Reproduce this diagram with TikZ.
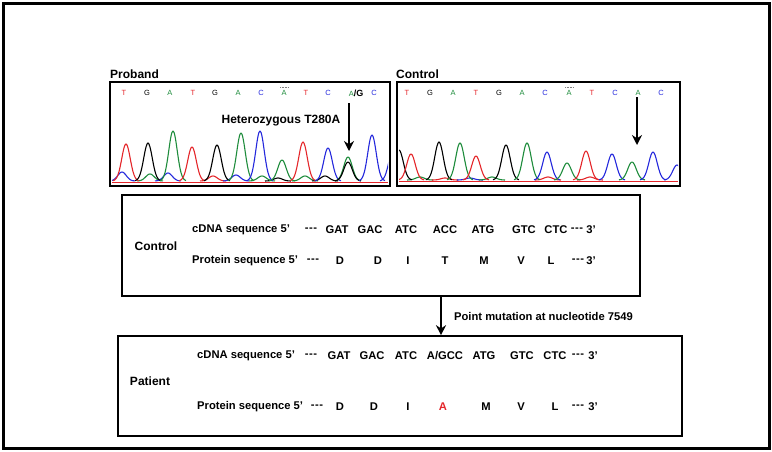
\documentclass[tikz,border=0pt]{standalone}
\usepackage{fontspec}
\setmainfont{Liberation Sans}
\usetikzlibrary{arrows.meta,positioning}

\definecolor{tRed}{RGB}{228,38,42}
\definecolor{tGreen}{RGB}{30,140,60}
\definecolor{tBlue}{RGB}{36,40,220}

\tikzset{
  frame/.style={draw, line width=1.6pt},
  lbl/.style={font=\bfseries\fontsize{12}{13}\selectfont, inner sep=0pt},
  seq/.style={font=\bfseries\fontsize{11.2}{13}\selectfont, inner sep=0pt},
  basecall/.style={font=\fontsize{7.5}{8}\selectfont, inner sep=0pt},
  trace/.style={line width=1.1pt, line join=round},
  pointer/.style={line width=2.3pt, -{Stealth[length=10pt,width=10pt]}},
}

\newcommand{\dashes}{-\kern0.6pt-\kern0.6pt-}
% one chromatogram peak: colour, centre, top, baseline
\newcommand{\peak}[4]{%
  \pgfmathsetmacro{\pa}{#2-13}\pgfmathsetmacro{\pb}{#2+13}%
  \draw[trace,#1] plot[domain=\pa:\pb,samples=27,smooth]
    (\x,{#4-(#4-#3)*exp(-((\x-#2)/6)^2)});}

\begin{document}
\begin{tikzpicture}[x=1pt, y=-1pt]
  \useasboundingbox (0,0) rectangle (772,451);
  \draw[line width=3pt] (3,3) rectangle (769,448);

  % chromatograms
  \node[lbl, anchor=south west] (probandlbl) at (110,79) {Proband};
  \node[lbl, anchor=south west] (controllbl) at (396,79) {Control};
  \draw[line width=2.2pt] (110,82) rectangle (390,186);
  \draw[line width=2.2pt] (397,82) rectangle (680,186);

  \foreach \bx/\b/\c [count=\i] in {124/T/tRed, 147/G/black, 170/A/tGreen,
      193/T/tRed, 215/G/black, 238/A/tGreen, 261/C/tBlue, 284/A/tGreen,
      306/T/tRed, 328/C/tBlue, 374/C/tBlue}
    \node[basecall, text=\c] (pb\i) at (\bx,93) {\b};
  \node[basecall] (pbAG) at (356,93) {\textcolor{tGreen}{A}\textbf{\fontsize{9}{9}\selectfont/G}};
  \foreach \bx/\b/\c [count=\i] in {407/T/tRed, 430/G/black, 453/A/tGreen,
      476/T/tRed, 499/G/black, 522/A/tGreen, 545/C/tBlue, 569/A/tGreen,
      592/T/tRed, 615/C/tBlue, 638/A/tGreen, 661/C/tBlue}
    \node[basecall, text=\c] (cb\i) at (\bx,93) {\b};
  \draw[densely dotted, gray, line width=0.5pt] (280,87) -- (289,87);
  \draw[densely dotted, gray, line width=0.5pt] (565,87) -- (574,87);

  \begin{scope}
    \clip (112,84) rectangle (388,184);
    \draw[tRed, line width=0.6pt] (112,182) -- (388,182);
    \foreach \pc/\pt/\pcol in {122/172/tBlue, 150/174/tGreen, 168/173/tBlue,
        213/176/tRed, 236/175/tBlue, 262/176/tGreen, 278/178/black,
        305/176/tGreen, 325/176/black}
      {\peak{\pcol}{\pc}{\pt}{181}}
    \foreach \pc/\pt/\pcol in {126/144/tRed, 148/143/black, 173/131/tGreen,
        192/147/tRed, 217/145/black, 241/133/tGreen, 260/131/tBlue,
        282/160/tGreen, 303/142/tRed, 328/148/tBlue, 348/157/tGreen,
        348/162/black, 372/135/tBlue, 393/150/tBlue}
      {\peak{\pcol}{\pc}{\pt}{181}}
  \end{scope}
  \begin{scope}
    \clip (399,84) rectangle (678,184);
    \draw[tRed, line width=0.6pt] (399,181) -- (678,181);
    \foreach \pc/\pt/\pcol in {420/177/tGreen, 445/178/tRed, 470/178/tBlue,
        492/177/tGreen, 590/177/tRed, 548/177/tRed}
      {\peak{\pcol}{\pc}{\pt}{180}}
    \foreach \pc/\pt/\pcol in {399/150/black, 411/154/tRed, 439/142/black,
        460/143/tGreen, 476/156/tRed, 506/145/black, 527/143/tGreen,
        547/152/tBlue, 567/163/tGreen, 586/151/tRed, 612/154/tBlue,
        632/162/tGreen, 653/152/tBlue, 677/165/tBlue}
      {\peak{\pcol}{\pc}{\pt}{180}}
  \end{scope}

  \node[lbl] (hetlbl) at (281,121) {Heterozygous T280A};
  \coordinate (pbtail) at (349,103); \coordinate (pbtip) at (349,151);
  \draw[pointer] (pbtail) -- (pbtip);
  \coordinate (cbtail) at (637,97); \coordinate (cbtip) at (637,145);
  \draw[pointer] (cbtail) -- (cbtip);

  % control sequence
  \node[frame, minimum width=518pt, minimum height=101pt, inner sep=0pt]
    (ctrlbox) at (381,245.5) {};
  \node[lbl] (ctrllbl) at (156,246) {Control};
  \node[seq, anchor=west] (ctrlcdna) at (192,230) {cDNA sequence 5’};
  \node[seq, anchor=west] (ctrlprot) at (192,261) {Protein sequence 5’};
  \foreach \bx/\t [count=\i] in {311/\dashes, 337/GAT, 370/GAC, 406/ATC, 445/ACC,
      483/ATG, 524/GTC, 556/CTC, 577/\dashes, 591/3’}
    {\node[seq] (cc\i) at (\bx,230) {\t};}
  \foreach \bx/\t [count=\i] in {313/\dashes, 340/D, 378/D, 408/I, 445/T,
      484/M, 521/V, 551/L, 578/\dashes, 591/3’}
    {\node[seq] (cp\i) at (\bx,261) {\t};}

  % patient sequence
  \node[frame, minimum width=564pt, minimum height=100pt, inner sep=0pt]
    (patbox) at (400,386) {};
  \node[lbl] (patlbl) at (150,381) {Patient};
  \node[seq, anchor=west] (patcdna) at (197,356) {cDNA sequence 5’};
  \node[seq, anchor=west] (patprot) at (197,407) {Protein sequence 5’};
  \foreach \bx/\t [count=\i] in {311/\dashes, 339/GAT, 372/GAC, 406/ATC, 445/{A/GCC},
      484/ATG, 522/GTC, 555/CTC, 578/\dashes, 593/3’}
    {\node[seq] (pc\i) at (\bx,356) {\t};}
  \foreach \bx/\t [count=\i] in {317/\dashes, 340/D, 374/D, 408/I, 443/{\textcolor{tRed}{A}},
      486/M, 521/V, 555/L, 578/\dashes, 593/3’}
    {\node[seq] (pp\i) at (\bx,407) {\t};}

  % mutation arrow
  \coordinate (mut) at (441,0);
  \draw[pointer] (ctrlbox.south -| mut) -- (patbox.north -| mut)
    node[seq, midway, right=12pt] (mutlbl) {Point mutation at nucleotide 7549};
\end{tikzpicture}
\end{document}
